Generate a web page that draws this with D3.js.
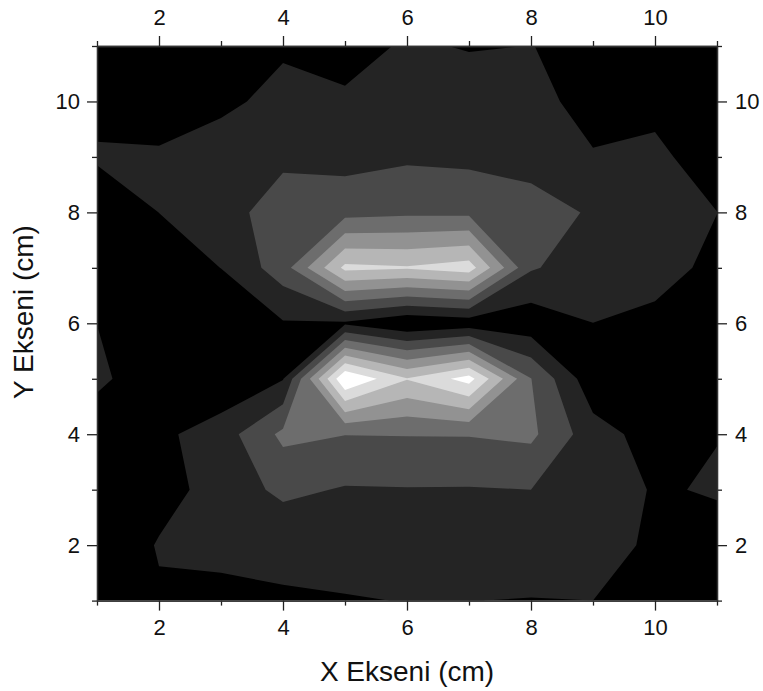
<!DOCTYPE html>
<html>
<head>
<meta charset="utf-8">
<script src="https://cdn.jsdelivr.net/npm/d3@7"></script>
<style>
html,body{margin:0;padding:0;background:#fff}
svg{display:block}
text{font-family:"Liberation Sans",Arial,sans-serif;fill:#111}
</style>
</head>
<body>
<svg id="c" width="763" height="691"></svg>
<script>
// Grid axes
const xGrid = [1,2,3,4,5,6,7,8,9,10,11];
const yGrid = [1,2,3,4,5,6,7,8,9,10,11];
// Values, one row for each Y (x = 1..11)
const rowY1  = [0.10,0.87,0.80,0.92,0.93,1.03,1.01,0.97,1.00,0.50,0.20];
const rowY2  = [0.10,1.08,1.20,1.20,1.50,1.60,1.60,1.50,1.30,0.87,0.70];
const rowY3  = [0.10,0.60,1.41,2.23,1.92,1.95,1.94,2.00,1.50,0.925,1.07];
const rowY4  = [0.10,0.77,1.51,3.23,3.02,3.04,3.05,3.21,1.43,0.57,0.98];
const rowY5  = [1.30,0.10,0.17,0.95,8.00,6.05,7.40,3.02,0.30,0.20,0.10];
const rowY6  = [0.99,0.20,0.30,0.92,0.85,0.10,0.40,0.35,0.995,0.67,0.20];
const rowY7  = [0.30,0.45,1.01,2.53,6.25,6.10,6.50,2.10,1.45,1.50,0.67];
const rowY8  = [0.15,1.005,1.75,2.30,2.65,2.80,2.78,2.55,1.86,1.60,1.01];
const rowY9  = [1.15,1.15,1.42,1.88,1.65,1.86,1.77,1.50,1.05,1.30,0.30];
const rowY10 = [0.60,0.40,0.82,1.25,1.15,1.60,1.50,1.22,0.75,0.63,0.10];
const rowY11 = [0.10,0.20,0.40,0.89,0.62,1.12,0.94,1.007,0.89,0.30,0.10];
const levels = [0,1,2,3,4,5,6,7];
const levelFills = ["#000000","#242424","#494949","#6d6d6d","#929292","#b6b6b6","#dbdbdb","#ffffff"];
const majorTicks = [2,4,6,8,10];
const minorTicks = [1,3,5,7,9,11];
const xTitle = "X Ekseni (cm)";
const yTitle = "Y Ekseni (cm)";

const values = [rowY1,rowY2,rowY3,rowY4,rowY5,rowY6,rowY7,rowY8,rowY9,rowY10,rowY11].flat();
const svg = d3.select("#c");
const left=97,right=717,top_=46,bottom=600.6;
const x = d3.scaleLinear().domain([1,11]).range([left,right]);
const y = d3.scaleLinear().domain([1,11]).range([bottom,top_]);

svg.append("clipPath").attr("id","plot").append("rect")
  .attr("x",left).attr("y",top_).attr("width",right-left).attr("height",bottom-top_);

const contours = d3.contours().size([xGrid.length,yGrid.length]).thresholds(levels)(values);
const path = d3.geoPath(d3.geoTransform({
  point(px,py){ this.stream.point(x(px+0.5), y(py+0.5)); }
}));
svg.append("g").attr("clip-path","url(#plot)")
  .selectAll("path").data(contours).join("path")
  .attr("d",path)
  .attr("fill",(d,i)=>levelFills[i])
  .attr("stroke","none");

const fontTick = 22;
function axis(gen, tx, ty, vals, len, labels, pad){
  const g = svg.append("g").attr("transform",`translate(${tx},${ty})`)
    .call(gen.tickValues(vals).tickSize(len).tickSizeOuter(0).tickPadding(pad||6)
      .tickFormat(labels? d3.format("d") : ""));
  g.selectAll("path").attr("stroke","#333").attr("stroke-width",1.3);
  g.selectAll("line").attr("stroke","#222").attr("stroke-width",1.3);
  g.selectAll("text").style("font-size",fontTick+"px").style("font-family",'"Liberation Sans",Arial,sans-serif').attr("fill","#111");
  return g;
}
axis(d3.axisBottom(x),0,bottom,minorTicks,5,false);
axis(d3.axisBottom(x),0,bottom,majorTicks,10,true,9);
axis(d3.axisTop(x),0,top_,minorTicks,5,false);
axis(d3.axisTop(x),0,top_,majorTicks,10,true,11);
axis(d3.axisLeft(y),left,0,minorTicks,5,false);
axis(d3.axisLeft(y),left,0,majorTicks,10,true,7);
axis(d3.axisRight(y),right,0,minorTicks,5,false);
axis(d3.axisRight(y),right,0,majorTicks,10,true,8);

svg.append("text").attr("x",407).attr("y",681).attr("text-anchor","middle")
  .style("font-size","28px").text(xTitle);
svg.append("text").attr("transform","translate(33,312) rotate(-90)").attr("text-anchor","middle")
  .style("font-size","28px").text(yTitle);
</script>
</body>
</html>
